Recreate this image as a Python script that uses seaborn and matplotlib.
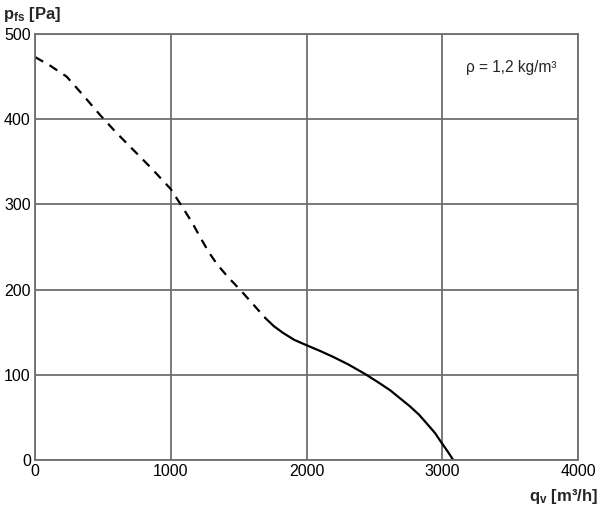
import matplotlib
matplotlib.use("Agg")
import matplotlib.pyplot as plt
import seaborn as sns
import pandas as pd

# Data
dashed_q = [0, 110, 233, 350, 479, 600, 724, 860, 1000, 1093, 1160, 1215, 1280,
            1340, 1420, 1510, 1600, 1694]
dashed_p = [473, 463, 450, 429, 405, 384, 364, 342, 318, 295, 278, 262, 244,
            230, 215, 200, 184, 167]
solid_q = [1694, 1760, 1829, 1910, 1996, 2100, 2197, 2310, 2431, 2530, 2615, 2700,
           2762, 2830, 2885, 2945, 2996, 3040, 3081]
solid_p = [167, 157, 149, 141, 135, 128, 121, 112, 101, 91, 82, 71,
           63, 53, 43, 32, 20, 10, 0]
x_ticks = [0, 1000, 2000, 3000, 4000]
y_ticks = [0, 100, 200, 300, 400, 500]

sns.set_theme(style="white")
plt.rcParams['font.family'] = ['Liberation Sans', 'DejaVu Sans']
plt.rcParams['mathtext.fontset'] = 'custom'
plt.rcParams['mathtext.rm'] = 'Liberation Sans:bold'
plt.rcParams['mathtext.it'] = 'Liberation Sans:bold'
plt.rcParams['mathtext.bf'] = 'Liberation Sans:bold'

fig = plt.figure(figsize=(6.0, 5.12), dpi=100)
ax = fig.add_axes([35/600, 1-460/512, (578-35)/600, (460-34)/512])

df_d = pd.DataFrame({"q": dashed_q, "p": dashed_p})
df_s = pd.DataFrame({"q": solid_q, "p": solid_p})
sns.lineplot(data=df_d, x="q", y="p", ax=ax, color="black", lw=1.6, sort=False,
             estimator=None)
ax.lines[-1].set_dashes((4.2, 3.3))
sns.lineplot(data=df_s, x="q", y="p", ax=ax, color="black", lw=1.6, sort=False,
             estimator=None)
for ln in ax.lines:
    ln.set_solid_joinstyle("round")
    ln.set_dash_joinstyle("round")

ax.set_xlim(0, 4000)
ax.set_ylim(0, 500)
ax.set_xticks(x_ticks)
ax.set_yticks(y_ticks)
ax.set_xticklabels([str(v) for v in x_ticks])
ax.set_yticklabels([str(v) for v in y_ticks])
ax.grid(True, color="#6e6e6e", lw=1.3)
ax.set_axisbelow(True)
for s in ax.spines.values():
    s.set_color("#6e6e6e")
    s.set_linewidth(1.3)
ax.tick_params(axis="both", length=0, labelsize=11.5, colors="black", pad=3)
ax.set_xlabel("")
ax.set_ylabel("")

ax.text(0.877, 0.922, "ρ = 1,2 kg/m³", transform=ax.transAxes, ha="center", va="center",
        fontsize=11.2)
fig.text(3/600, 1-14/512, r"$p_{fs}$ [Pa]", fontsize=12, fontweight="bold",
         ha="left", va="center")
fig.text(598/600, 1-497/512, r"$q_{v}$ [m³/h]", fontsize=12, fontweight="bold",
         ha="right", va="center")

fig.savefig("out.png", dpi=100)
